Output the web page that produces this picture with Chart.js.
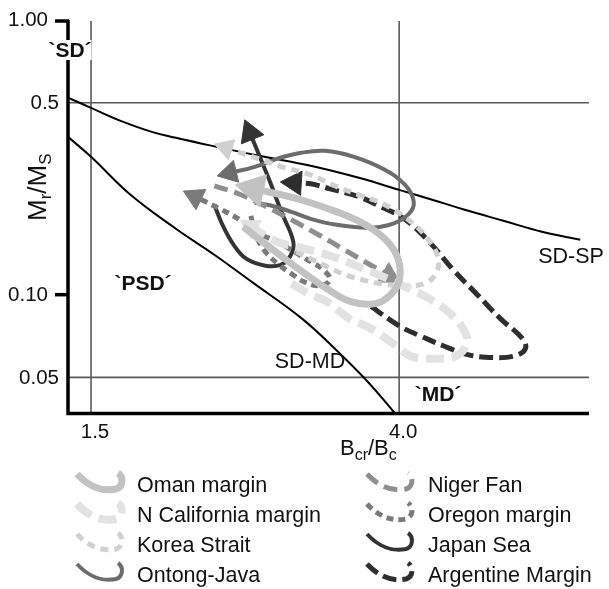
<!DOCTYPE html>
<html><head><meta charset="utf-8">
<script src="https://cdn.jsdelivr.net/npm/chart.js@4.4.1/dist/chart.umd.min.js"></script>
<style>html,body{margin:0;padding:0;background:#fff;}</style>
</head><body>
<canvas id="c" width="609" height="589"></canvas>
<script>
// ---- axis ticks ----
const xTickValues = [1.5, 4.0];
const xTickLabels = ['1.5', '4.0'];
const yTickValues = [1.0, 0.5, 0.1, 0.05];
const yTickLabels = ['1.00', '0.5', '0.10', '0.05'];
const xGridValues = [1.5, 4.0];
const yGridValues = [0.5, 0.05];
const yMajorTicks = [1.0, 0.1];

// ---- boundary curves ----
const sdSpX = [1.394,1.5,1.635,1.820,1.965,2.174,2.413,2.605,3.018,3.518,4.0,4.538,4.929,5.572,6.300,7.120];
const sdSpY = [0.522,0.4786,0.4329,0.3915,0.3724,0.3511,0.3311,0.3176,0.2945,0.2663,0.2408,0.2180,0.2037,0.1858,0.1695,0.1585];
const sdMdX = [1.394,1.5,1.701,1.965,2.221,2.511,2.936,3.279,3.627,3.940];
const sdMdY = [0.3754,0.3176,0.2310,0.1738,0.1398,0.1106,0.0818,0.0626,0.0479,0.0372];

// ---- site paths (tail -> arrow head) ----
const omanX = [2.435,2.589,2.779,2.954,3.179,3.432,3.706,3.893,4.002,3.990,3.857,3.594,3.279,2.954,2.711,2.519];
const omanY = [0.1767,0.1558,0.1352,0.1202,0.1051,0.0943,0.0928,0.1,0.1134,0.1341,0.1558,0.1796,0.2002,0.2198,0.2330,0.2429];
const nCalX = [2.839,3.018,3.179,3.412,3.661,3.940,4.164,4.496,4.780,4.960,4.929,4.708,4.428,4.102,3.798,3.518,3.209,2.927,2.711,2.495];
const nCalY = [0.1096,0.1,0.0943,0.0818,0.0752,0.0658,0.0595,0.0585,0.0595,0.0658,0.0733,0.0853,0.0959,0.1060,0.1163,0.1264,0.1386,0.1482,0.1558,0.1767];
const koreaX = [2.882,3.141,3.339,3.550,3.775,4.102,4.360,4.510,4.524,4.360,4.102,3.798,3.518,3.258,3.018,2.753,2.511,2.304];
const koreaY = [0.1433,0.1285,0.1192,0.1134,0.1096,0.1078,0.1106,0.1212,0.1375,0.1625,0.1889,0.2142,0.2310,0.2491,0.2732,0.2921,0.3176,0.3424];
const ontongX = [2.526,2.669,2.839,3.018,3.279,3.627,3.916,4.126,4.190,4.076,3.798,3.464,3.160,2.927,2.711,2.526,2.333];
const ontongY = [0.2160,0.2107,0.2002,0.1889,0.1796,0.1752,0.1812,0.1970,0.2180,0.2512,0.2872,0.3176,0.3339,0.3284,0.3123,0.2921,0.2777];
const nigerX = [2.221,2.398,2.589,2.839,3.112,3.360,3.627,3.869];
const nigerY = [0.2491,0.2330,0.2125,0.1874,0.1639,0.1457,0.1296,0.1173];
const oregonX = [2.495,2.534,2.613,2.728,2.839,2.954,3.112,3.209,3.141,3.018,2.865,2.728,2.566,2.435,2.276,2.089];
const oregonY = [0.1937,0.1653,0.1433,0.1285,0.1192,0.1115,0.1078,0.1134,0.1233,0.1318,0.1433,0.1546,0.1667,0.1842,0.2037,0.2272];
const japanX = [2.221,2.276,2.362,2.458,2.613,2.745,2.830,2.856,2.753,2.645,2.550,2.488];
const japanY = [0.2125,0.1812,0.1519,0.1352,0.1275,0.1285,0.1386,0.1558,0.1986,0.2620,0.3311,0.3884];
const argX = [3.661,3.881,4.064,4.268,4.593,4.975,5.403,5.799,5.979,5.924,5.521,5.130,4.736,4.401,4.064,3.775,3.518,3.209,3.018,2.865];
const argY = [0.0905,0.0811,0.0752,0.0710,0.0653,0.0605,0.0590,0.0600,0.0636,0.0692,0.0818,0.1,0.1243,0.1558,0.1889,0.2089,0.2272,0.2429,0.2533,0.2555];

const siteNames = ['Oman margin','N California margin','Korea Strait','Ontong-Java','Niger Fan','Oregon margin','Japan Sea','Argentine Margin'];

const FONT = "'Liberation Sans', Arial, Helvetica, sans-serif";
const pts = (xs, ys) => xs.map((v, i) => ({x: v, y: ys[i]}));

function arrowRotation(ctx) {
  const d = ctx.dataset.data, i = ctx.dataIndex;
  if (i !== d.length - 1) return 0;
  const sx = ctx.chart.scales.x, sy = ctx.chart.scales.y;
  const dx = sx.getPixelForValue(d[i].x) - sx.getPixelForValue(d[i-1].x);
  const dy = sy.getPixelForValue(d[i].y) - sy.getPixelForValue(d[i-1].y);
  return Math.atan2(dy, dx) * 180 / Math.PI + 90;
}
function arrowRadius(ctx) {
  return ctx.dataIndex === ctx.dataset.data.length - 1 ? ctx.dataset.arrowSize : 0;
}

function site(name, xs, ys, color, width, dash, arrow, order, legendCol, legendRow) {
  return {
    label: name, data: pts(xs, ys), showLine: true, tension: 0.4,
    borderColor: color, backgroundColor: color, borderWidth: width, borderDash: dash,
    borderCapStyle: 'butt', borderJoinStyle: 'round', fill: false,
    pointStyle: 'triangle', pointRadius: arrowRadius, pointHoverRadius: arrowRadius,
    pointRotation: arrowRotation, pointBackgroundColor: color, pointBorderColor: color, pointBorderWidth: 1,
    arrowSize: arrow, order: order, legendCol: legendCol, legendRow: legendRow
  };
}
function boundary(name, xs, ys) {
  return { label: name, data: pts(xs, ys), showLine: true, tension: 0.4, borderColor: '#000',
    borderWidth: 2, pointRadius: 0, fill: false, order: 20, isBoundary: true };
}

const datasets = [
  site(siteNames[0], omanX, omanY, '#c2c2c2', 7, [], 19, 1, 0, 0),
  site(siteNames[1], nCalX, nCalY, '#e2e2e2', 8, [18, 8], 12, 2, 0, 1),
  site(siteNames[2], koreaX, koreaY, '#d0d0d0', 5, [8, 6], 12, 3, 0, 2),
  site(siteNames[3], ontongX, ontongY, '#6c6c6c', 4, [], 13, 6, 0, 3),
  site(siteNames[4], nigerX, nigerY, '#8e8e8e', 5, [14, 7], 13, 4, 1, 0),
  site(siteNames[5], oregonX, oregonY, '#7a7a7a', 5, [7, 5], 13, 5, 1, 1),
  site(siteNames[6], japanX, japanY, '#343434', 4, [], 14, 7, 1, 2),
  site(siteNames[7], argX, argY, '#2e2e2e', 5, [14, 6], 14, 8, 1, 3),
  boundary('SD-SP', sdSpX, sdSpY),
  boundary('SD-MD', sdMdX, sdMdY)
];

function drawParts(ctx, parts, x, y) {
  let cx = x;
  parts.forEach(([t, font, dy]) => {
    ctx.font = font; ctx.fillText(t, cx, y + dy); cx += ctx.measureText(t).width;
  });
}

const decor = {
  id: 'decor',
  beforeDatasetsDraw(chart) {
    const {ctx, chartArea: a, scales: {x, y}} = chart;
    ctx.save();
    ctx.strokeStyle = '#5a5a5a'; ctx.lineWidth = 1.6;
    xGridValues.forEach(v => { const p = x.getPixelForValue(v); ctx.beginPath(); ctx.moveTo(p, a.top + 1); ctx.lineTo(p, a.bottom); ctx.stroke(); });
    yGridValues.forEach(v => { const p = y.getPixelForValue(v); ctx.beginPath(); ctx.moveTo(a.left, p); ctx.lineTo(a.right, p); ctx.stroke(); });
    ctx.restore();
  },
  afterDatasetsDraw(chart) {
    const {ctx, chartArea: a, scales: {x, y}} = chart;
    ctx.save();
    // axes
    ctx.strokeStyle = '#000'; ctx.lineWidth = 3.5;
    ctx.beginPath(); ctx.moveTo(a.left, a.top); ctx.lineTo(a.left, a.bottom + 1.5); ctx.lineTo(a.right, a.bottom + 1.5); ctx.stroke();
    // major ticks
    yMajorTicks.forEach(v => { const p = y.getPixelForValue(v) + (v === 1.0 ? 1 : 0); ctx.beginPath(); ctx.moveTo(a.left - 13, p); ctx.lineTo(a.left + 1, p); ctx.stroke(); });
    // y tick labels
    ctx.fillStyle = '#111'; ctx.font = '20.5px ' + FONT; ctx.textAlign = 'right'; ctx.textBaseline = 'middle';
    yTickValues.forEach((v, i) => {
      const p = y.getPixelForValue(v);
      const off = yMajorTicks.includes(v) ? 20 : 9;
      ctx.fillText(yTickLabels[i], a.left - off, p + (v === 1.0 ? 0 : 1));
    });
    // x tick labels
    ctx.textAlign = 'center';
    xTickValues.forEach((v, i) => { ctx.fillText(xTickLabels[i], x.getPixelForValue(v) + 4, a.bottom + 20); });
    // region labels
    ctx.font = 'bold 21px ' + FONT;
    const sdW = ctx.measureText('`SD\u00B4').width;
    ctx.fillStyle = '#fff'; ctx.fillRect(70 - sdW / 2, 40, sdW, 20);
    ctx.fillStyle = '#111';
    ctx.fillText('`SD\u00B4', 70, 51);
    ctx.fillText('`PSD\u00B4', 143, 284);
    ctx.fillText('`MD\u00B4', 438, 395);
    ctx.font = '21.5px ' + FONT;
    ctx.fillText('SD-MD', 310, 362);
    ctx.fillText('SD-SP', 571, 257);
    // axis titles
    ctx.textAlign = 'left'; ctx.textBaseline = 'alphabetic';
    drawParts(ctx, [['B', '22px ' + FONT, 0], ['cr', '16px ' + FONT, 5], ['/B', '22px ' + FONT, 0], ['c', '16px ' + FONT, 5]], 340, 455);
    ctx.save();
    ctx.translate(46, 221); ctx.rotate(-Math.PI / 2);
    drawParts(ctx, [['M', '26px ' + FONT, 0], ['r', '17px ' + FONT, 5], ['/M', '26px ' + FONT, 0], ['S', '17px ' + FONT, 5]], 0, 0);
    ctx.restore();
    // legend
    const colSym = [76, 366], colText = [137, 428], rowY = [486, 516, 546, 576];
    chart.data.datasets.forEach(ds => {
      if (ds.isBoundary) return;
      const x0 = colSym[ds.legendCol], yc = rowY[ds.legendRow];
      ctx.save();
      ctx.strokeStyle = ds.borderColor; ctx.lineWidth = ds.borderWidth; ctx.setLineDash(ds.borderDash); ctx.lineCap = 'butt';
      ctx.beginPath();
      ctx.moveTo(x0 + 1, yc - 12);
      ctx.bezierCurveTo(x0 + 12, yc, x0 + 26, yc + 6, x0 + 40, yc + 3);
      ctx.bezierCurveTo(x0 + 47, yc + 1, x0 + 48, yc - 9, x0 + 42, yc - 13);
      ctx.stroke();
      ctx.restore();
      ctx.fillStyle = '#111'; ctx.font = '21.5px ' + FONT; ctx.textBaseline = 'middle'; ctx.textAlign = 'left';
      ctx.fillText(ds.label, colText[ds.legendCol], yc);
    });
    ctx.restore();
  }
};

new Chart(document.getElementById('c'), {
  type: 'scatter',
  data: { datasets },
  options: {
    responsive: false, animation: false, events: [], devicePixelRatio: 1,
    layout: { padding: { left: 68, top: 18, right: 0, bottom: 177 } },
    plugins: { legend: { display: false }, tooltip: { enabled: false } },
    scales: {
      x: { type: 'logarithmic', min: 1.394, max: 7.32, display: false },
      y: { type: 'logarithmic', min: 0.0374, max: 1.0, display: false }
    }
  },
  plugins: [decor]
});
</script>
</body></html>
